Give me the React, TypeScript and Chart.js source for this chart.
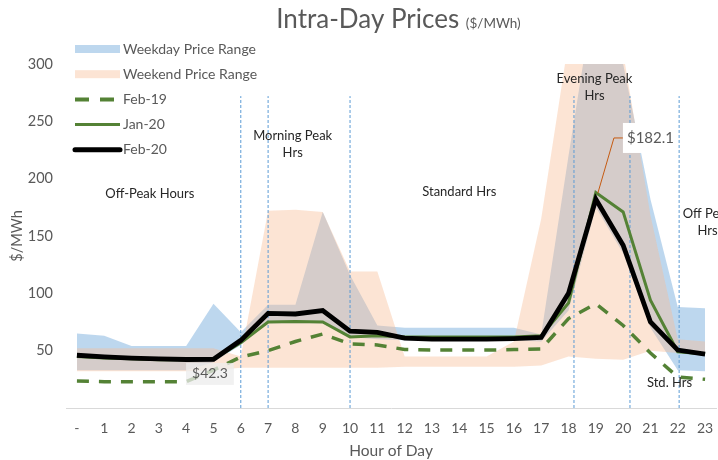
import React, { useEffect, useRef } from 'react';
import { Chart, registerables } from 'chart.js';

Chart.register(...registerables);

// ---------- data ----------
const hourLabels = ['-', '1', '2', '3', '4', '5', '6', '7', '8', '9', '10', '11', '12', '13', '14', '15', '16', '17', '18', '19', '20', '21', '22', '23'];
const hours = [0, 1, 2, 3, 4, 5, 6, 7, 8, 9, 10, 11, 12, 13, 14, 15, 16, 17, 18, 19, 20, 21, 22, 23];

const weekdayMin = [33, 33, 33, 33, 33, 40, 55, 74, 74, 74, 62, 60, 59, 59, 59, 59, 59, 58, 85, 175, 135, 70, 33, 32];
const weekdayMax = [65, 63, 54, 54, 54, 91, 66, 90, 90, 171, 116, 72, 70, 70, 70, 70, 70, 64, 220, 370, 300, 182, 88, 87];
const weekendMin = [32, 32, 32, 32, 32, 33, 35, 35, 35, 35, 35, 35, 36, 36, 36, 36, 36, 37, 45, 43, 42, 50, 48, 47];
const weekendMax = [52, 52, 52, 52, 52, 52, 45, 172, 173, 171, 119, 119, 45, 45, 45, 45, 58, 165, 320, 360, 310, 168, 60, 58];

const feb19 = [23.5, 23, 23, 23, 23, 33, 44.5, 50, 58, 64.5, 56, 55, 51, 50.5, 50.5, 50.5, 51, 51.5, 78, 91, 72, 48, 27, 25];
const jan20 = [45, 43.5, 43, 42, 42, 42.5, 57, 75, 75.5, 75, 62, 63, 62, 62, 62, 62, 62, 63, 91.5, 188, 171, 94, 49, 47];
const feb20 = [46, 44.5, 43.5, 42.8, 42.3, 42.5, 59, 82.5, 82, 85, 67, 66, 61, 60, 60, 60, 60.5, 61.5, 100, 182.1, 142, 75, 50.5, 47];

const yTickValues = [0, 50, 100, 150, 200, 250, 300];
const periodDividers = [6, 7, 10, 18.2, 20.25, 22.05];
const dividerTopValue = 272;

const periodNotes = [
  { lines: ['Off-Peak Hours'], hour: 2.67, value: 186.6 },
  { lines: ['Morning Peak', 'Hrs'], hour: 7.9, value: 237 },
  { lines: ['Standard Hrs'], hour: 14.0, value: 188.4 },
  { lines: ['Evening Peak', 'Hrs'], hour: 18.95, value: 287 },
  { lines: ['Off Peak', 'Hrs'], hour: 23.09, value: 169 },
  { lines: ['Std. Hrs'], hour: 21.7, value: 21.8 },
];

const minLabel = { text: '$42.3', hour: 4.87, value: 29.7 };
const peakLabel = { text: '$182.1', hour: 21.0, value: 235.5, pointHour: 19, pointValue: 182.1 };

// ---------- styles ----------
const FONT = 'Lato, "Open Sans", sans-serif';
const GRAY = '#595959';
const GREEN = '#548235';
const WEEKDAY_FILL = 'rgba(157,195,230,0.67)';
const WEEKEND_FILL = 'rgba(247,187,147,0.40)';
const DIVIDER = '#5B9BD5';

Chart.defaults.font.family = FONT;

const pts = (values: number[]) => hours.map((h, i) => ({ x: h, y: values[i] }));

const legendItems = [
  { label: 'Weekday Price Range', kind: 'rect', color: WEEKDAY_FILL },
  { label: 'Weekend Price Range', kind: 'rect', color: WEEKEND_FILL },
  { label: 'Feb-19', kind: 'dash', color: GREEN },
  { label: 'Jan-20', kind: 'line', color: GREEN },
  { label: 'Feb-20', kind: 'bold', color: '#000000' },
];

const decorPlugin = {
  id: 'decor',
  afterDatasetsDraw(chart: any) {
    const { ctx } = chart;
    const x = chart.scales.x;
    const y = chart.scales.y;
    ctx.save();

    // period notes
    ctx.fillStyle = '#262626';
    ctx.font = `13px ${FONT}`;
    ctx.textAlign = 'center';
    ctx.textBaseline = 'middle';
    periodNotes.forEach((n) => {
      const px = x.getPixelForValue(n.hour);
      const py = y.getPixelForValue(n.value);
      n.lines.forEach((t, i) => ctx.fillText(t, px, py + i * 16.5));
    });

    // min label
    ctx.font = `14px ${FONT}`;
    {
      const px = x.getPixelForValue(minLabel.hour);
      const py = y.getPixelForValue(minLabel.value);
      const w = ctx.measureText(minLabel.text).width + 12;
      ctx.fillStyle = 'rgba(236,236,236,0.75)';
      ctx.fillRect(px - w / 2, py - 11, w, 22);
      ctx.fillStyle = GRAY;
      ctx.fillText(minLabel.text, px, py);
    }

    // peak label with leader
    ctx.font = `15px ${FONT}`;
    {
      const px = x.getPixelForValue(peakLabel.hour);
      const py = y.getPixelForValue(peakLabel.value);
      const w = ctx.measureText(peakLabel.text).width + 8;
      const left = px - w / 2;
      const ax = x.getPixelForValue(peakLabel.pointHour) + 2;
      const ay = y.getPixelForValue(peakLabel.pointValue) - 6;
      ctx.strokeStyle = '#C55A11';
      ctx.lineWidth = 1;
      ctx.beginPath();
      ctx.moveTo(ax, ay);
      ctx.lineTo(left - 9, py);
      ctx.lineTo(left, py);
      ctx.stroke();
      ctx.fillStyle = '#FFFFFF';
      ctx.fillRect(left, py - 15, w, 30);
      ctx.fillStyle = GRAY;
      ctx.fillText(peakLabel.text, px, py);
    }

    // legend
    ctx.textAlign = 'left';
    ctx.font = `14px ${FONT}`;
    legendItems.forEach((it, i) => {
      const cy = 49 + i * 25.2;
      const x0 = 75;
      const x1 = 120;
      if (it.kind === 'rect') {
        ctx.fillStyle = it.color;
        ctx.fillRect(x0, cy - 4, x1 - x0, 8);
      } else {
        ctx.strokeStyle = it.color;
        ctx.lineWidth = it.kind === 'bold' ? 5 : it.kind === 'dash' ? 4 : 3;
        ctx.lineCap = it.kind === 'bold' ? 'round' : 'butt';
        ctx.setLineDash(it.kind === 'dash' ? [14, 11] : []);
        ctx.beginPath();
        ctx.moveTo(x0, cy);
        ctx.lineTo(x1, cy);
        ctx.stroke();
        ctx.setLineDash([]);
      }
      ctx.fillStyle = GRAY;
      ctx.fillText(it.label, 123, cy);
    });

    // title
    ctx.textBaseline = 'alphabetic';
    const t1 = 'Intra-Day Prices ';
    const t2 = '($/MWh)';
    ctx.font = `26px ${FONT}`;
    const w1 = ctx.measureText(t1).width;
    ctx.font = `13.5px ${FONT}`;
    const w2 = ctx.measureText(t2).width;
    const start = 398.5 - (w1 + w2) / 2;
    ctx.fillStyle = GRAY;
    ctx.font = `26px ${FONT}`;
    ctx.fillText(t1, start, 28);
    ctx.font = `13.5px ${FONT}`;
    ctx.fillText(t2, start + w1, 28);

    ctx.restore();
  },
};

export default function App() {
  const canvasRef = useRef<HTMLCanvasElement | null>(null);

  useEffect(() => {
    if (!canvasRef.current) return;
    const hidden = { borderColor: 'rgba(0,0,0,0)', borderWidth: 0, pointRadius: 0 };
    const dividerSets = periodDividers.map((d) => ({
      label: 'divider',
      data: [{ x: d, y: 0 }, { x: d, y: dividerTopValue }],
      borderColor: DIVIDER,
      borderWidth: 1,
      borderDash: [3, 2],
      pointRadius: 0,
      fill: false,
      order: 2.5,
    }));
    const chart = new Chart(canvasRef.current, {
      type: 'line',
      data: {
        datasets: [
          { label: 'Weekday min', data: pts(weekdayMin), ...hidden, fill: false, order: 6 },
          { label: 'Weekday Price Range', data: pts(weekdayMax), ...hidden, fill: '-1', backgroundColor: WEEKDAY_FILL, order: 5 },
          { label: 'Weekend min', data: pts(weekendMin), ...hidden, fill: false, order: 4 },
          { label: 'Weekend Price Range', data: pts(weekendMax), ...hidden, fill: '-1', backgroundColor: WEEKEND_FILL, order: 3 },
          ...dividerSets,
          { label: 'Feb-19', data: pts(feb19), borderColor: GREEN, borderWidth: 3.5, borderDash: [12, 10], pointRadius: 0, fill: false, order: 2 },
          { label: 'Jan-20', data: pts(jan20), borderColor: GREEN, borderWidth: 3, pointRadius: 0, fill: false, order: 1 },
          { label: 'Feb-20', data: pts(feb20), borderColor: '#000000', borderWidth: 4.8, pointRadius: 0, fill: false, order: 0 },
        ] as any,
      },
      options: {
        responsive: false,
        animation: false,
        devicePixelRatio: 1,
        events: [],
        layout: { padding: { top: 64, right: 2, bottom: 0, left: 0 } },
        elements: { line: { tension: 0, borderJoinStyle: 'miter' } as any, point: { radius: 0 } },
        plugins: {
          legend: { display: false },
          title: { display: false },
          tooltip: { enabled: false },
        },
        scales: {
          x: {
            type: 'linear',
            min: -0.4,
            max: 23.4,
            afterBuildTicks: (s: any) => {
              s.ticks = hours.map((h) => ({ value: h }));
            },
            afterFit: (s: any) => {
              s.height = 52;
              s.paddingLeft = 0;
              s.paddingRight = 0;
            },
            grid: { display: false, drawTicks: false },
            border: { display: true, color: '#D9D9D9', width: 1 },
            ticks: {
              autoSkip: false,
              maxRotation: 0,
              padding: 12,
              color: GRAY,
              font: { family: FONT, size: 14 },
              callback: (v: any) => hourLabels[v] ?? '',
            },
            title: {
              display: true,
              text: 'Hour of Day',
              color: GRAY,
              font: { family: FONT, size: 15.5 },
              padding: { top: 0, bottom: 0 },
            },
          },
          y: {
            min: 0,
            max: 300,
            afterBuildTicks: (s: any) => {
              s.ticks = yTickValues.map((v) => ({ value: v }));
            },
            afterFit: (s: any) => {
              s.width = 66;
            },
            grid: { display: false, drawTicks: false },
            border: { display: false },
            ticks: {
              padding: 13,
              color: GRAY,
              font: { family: FONT, size: 14.5 },
              callback: (v: any) => (v === 0 ? '' : String(v)),
            },
            title: {
              display: true,
              text: '$/MWh',
              color: GRAY,
              font: { family: FONT, size: 14.5 },
              padding: { top: 9, bottom: 0 },
            },
          },
        } as any,
      },
      plugins: [decorPlugin],
    });
    return () => chart.destroy();
  }, []);

  return (
    <div style={{ position: 'fixed', left: 0, top: 0, width: 718, height: 460, background: '#ffffff' }}>
      <canvas ref={canvasRef} width={718} height={460} style={{ display: 'block' }} />
    </div>
  );
}
